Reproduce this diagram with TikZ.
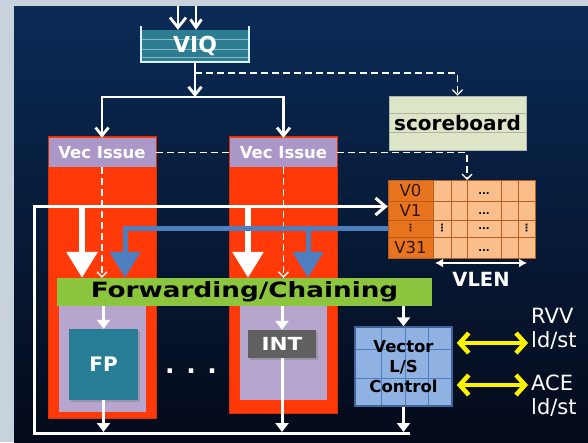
\documentclass[tikz,border=0pt]{standalone}
\usepackage{fontspec}
\usepackage{graphicx}
\setmainfont{DejaVu Sans}
\usetikzlibrary{arrows.meta,positioning,calc,shadows}

\definecolor{slidegrey}{RGB}{200,210,220}
\definecolor{paneltop}{RGB}{10,43,86}
\definecolor{panelbot}{RGB}{4,10,26}
\definecolor{lanered}{RGB}{255,58,8}
\definecolor{issuelilac}{RGB}{172,152,200}
\definecolor{pipelilac}{RGB}{182,166,206}
\definecolor{queueteal}{RGB}{44,124,146}
\definecolor{boardgreen}{RGB}{221,231,200}
\definecolor{fwdgreen}{RGB}{140,198,63}
\definecolor{fpteal}{RGB}{40,125,150}
\definecolor{intgrey}{RGB}{96,96,96}
\definecolor{lsblue}{RGB}{143,178,226}
\definecolor{regname}{RGB}{232,116,32}
\definecolor{regcell}{RGB}{250,190,140}
\definecolor{busblue}{RGB}{76,126,192}

\tikzset{
  unit/.style={inner sep=0pt,align=center},
  lane/.style={unit,fill=lanered,draw=lanered!85!black,minimum width=108pt},
  pipe/.style={unit,fill=pipelilac,minimum width=87pt},
  issue/.style={unit,fill=issuelilac,text=white,minimum width=107pt,minimum height=29pt,
    font=\bfseries\fontsize{16.5}{20}\selectfont},
  queue/.style={unit,fill=queueteal,text=white,minimum width=108pt,minimum height=32pt,
    font=\bfseries\fontsize{22}{26}\selectfont,
    path picture={\foreach \f in {0.3,0.6,0.85}
      \draw[queueteal!55!white,line width=0.8pt]
        ($(path picture bounding box.north west)!\f!(path picture bounding box.south west)$) --
        ($(path picture bounding box.north east)!\f!(path picture bounding box.south east)$);}},
  queuewall/.style={draw=white!85!cyan,line width=2.5pt},
  board/.style={unit,fill=boardgreen,draw=gray!60,line width=0.8pt,minimum width=137pt,minimum height=54pt,
    font=\bfseries\fontsize{20}{24}\selectfont,
    path picture={\foreach \f in {0.315,0.667}
      \draw[gray!50!boardgreen,line width=0.8pt]
        ($(path picture bounding box.north west)!\f!(path picture bounding box.south west)$) --
        ($(path picture bounding box.north east)!\f!(path picture bounding box.south east)$);}},
  reg/.style={unit,minimum width=45pt,text=black!80!regname,font=\fontsize{16.5}{20}\selectfont},
  regline/.style={draw=regname!80!black,line width=0.8pt},
  cell/.style={unit,font=\bfseries\fontsize{10}{12}\selectfont},
  tinydots/.style={unit,font=\bfseries\fontsize{10}{11}\selectfont},
  bar/.style={unit,fill=fwdgreen,minimum width=375pt,minimum height=28pt,
    font=\bfseries\fontsize{21}{24}\selectfont},
  fpu/.style={unit,fill=fpteal,text=white,minimum width=69pt,minimum height=71pt,
    font=\bfseries\fontsize{20}{24}\selectfont,
    drop shadow={shadow xshift=2pt,shadow yshift=-2pt,opacity=.45}},
  intu/.style={unit,fill=intgrey,text=white,minimum width=68pt,minimum height=28pt,
    font=\bfseries\fontsize{18}{22}\selectfont,
    drop shadow={shadow xshift=2pt,shadow yshift=-2pt,opacity=.45}},
  lsu/.style={unit,fill=lsblue,draw=busblue!80!black,line width=1.5pt,minimum width=97pt,minimum height=79pt,
    font=\bfseries\fontsize{16.5}{20}\selectfont,
    path picture={
      \foreach \f in {0.27,0.52,0.76}
        \draw[busblue,line width=0.8pt]
          ($(path picture bounding box.north west)!\f!(path picture bounding box.north east)$) --
          ($(path picture bounding box.south west)!\f!(path picture bounding box.south east)$);
      \foreach \f in {0.28,0.65}
        \draw[busblue,line width=0.8pt]
          ($(path picture bounding box.north west)!\f!(path picture bounding box.south west)$) --
          ($(path picture bounding box.north east)!\f!(path picture bounding box.south east)$);}},
  memport/.style={unit,text=white,align=left,font=\fontsize{21}{24}\selectfont},
  wire/.style={draw=white,line width=2.8pt},
  barb/.style={wire,-{Straight Barb[length=8pt,width=13pt]}},
  dashwire/.style={draw=white,line width=1.3pt,dash pattern=on 7pt off 4pt},
  dasharrow/.style={dashwire,-{Straight Barb[length=5pt,width=10pt,line width=1.3pt]}},
  loopwire/.style={draw=white,line width=3pt},
  bigwhite/.style={draw=white,line width=6pt,-{Triangle[width=30pt,length=26pt]}},
  bigblue/.style={draw=busblue,line width=5pt,-{Triangle[width=30pt,length=26pt]}},
  stub/.style={draw=white,line width=3pt,-{Triangle[width=13pt,length=9pt]}},
  memlink/.style={draw=yellow,line width=4.5pt,{Straight Barb[length=9pt,width=20pt]}-{Straight Barb[length=9pt,width=20pt]},
    shorten <=4pt,shorten >=3pt},
  dim/.style={draw=white,line width=2pt,{Latex[length=8pt,width=9pt]}-{Latex[length=8pt,width=9pt]}}
}

\begin{document}
\begin{tikzpicture}[x=1pt,y=-1pt]
\useasboundingbox (0,0) rectangle (588,442);
% slide backdrop
\fill[slidegrey] (0,0) rectangle (588,442);
\shade[top color=paneltop,bottom color=panelbot] (14,6) rectangle (588,442);

% execution lanes
\node[lane,minimum height=282pt] (laneA) at (102,277) {};
\node[lane,minimum height=277pt] (laneB) at (283,274.5) {};
\node[pipe,minimum height=106pt] (pipeA) at (102.5,359) {};
\node[pipe,minimum height=94pt] (pipeB) at (283,353) {};
\node[issue] (issA) at (102,152.5) {Vec Issue};
\node[issue] (issB) at (283.5,152.5) {Vec Issue};

% instruction queue
\node[queue] (viq) at (195,46) {VIQ};
\draw[queuewall] ([yshift=4pt]viq.north west) -- (viq.south west) -- (viq.south east) -- ([yshift=4pt]viq.north east);

\node[board] (sb) at (457.5,123) {scoreboard};

% vector register file
\fill[regname] (388,180) rectangle (433,258);
\fill[regcell] (433,180) rectangle (535,258);
\foreach \y in {201,220,237} \draw[regline] (388,\y) -- (535,\y);
\foreach \x in {433,451,467,501,518} \draw[regline] (\x,180) -- (\x,258);
\draw[regline] (388,180) rectangle (535,258);
\node[reg] (v0) at (410.5,190.5) {V0};
\node[reg] (v1) at (410.5,210.5) {V1};
\node[reg,tinydots] (vd) at (410.5,228.5) {⋮};
\node[reg] (v31) at (410.5,247.5) {V31};
\foreach \y in {194,214,229,251} \node[cell] at (484,\y) {...};
\node[tinydots] at (442,228.5) {⋮};
\node[tinydots] at (526.5,228.5) {⋮};
\coordinate (vlA) at (435,263);
\coordinate (vlB) at (527,263);
\draw[dim] (vlA) -- (vlB);
\node[unit,text=white,font=\bfseries\fontsize{19.5}{22}\selectfont] (vlen) at (481,279) {VLEN};

\node[bar] (fwd) at (244.5,292) {\scalebox{1.25}[1]{Forwarding/Chaining}};
\node[fpu] (fp) at (103.5,364.5) {FP};
\node[intu] (int) at (282,344) {\scalebox{1.2}[1]{INT}};
\node[unit,text=white,font=\bfseries\fontsize{25}{28}\selectfont] (more) at (191,371) {. . .};
\node[lsu] (ls) at (403.5,366.5) {Vector\\L/S\\Control};
\node[memport,anchor=west] (rvv) at (531,329) {RVV\\ld/st};
\node[memport,anchor=west] (ace) at (531,396) {ACE\\ld/st};

% fetch into the queue
\coordinate (inA) at (178,6);
\coordinate (inB) at (196,6);
\draw[wire,-{Straight Barb[length=10pt,width=16pt]}] (inA) -- (inA |- viq.north);
\draw[wire,-{Straight Barb[length=8pt,width=11pt]}] (inB) -- (inB |- viq.north);

% issue fan-out
\coordinate (fan) at (195,97);
\draw[barb] (viq.south) -- (fan);
\draw[barb] (fan) -| (issA.north);
\draw[barb] (fan) -| (issB.north);

% hazard checks
\coordinate (tap) at (195,73);
\coordinate (rftop) at (467,180);
\draw[dasharrow] (tap) -| (sb.north);
\draw[dashwire] (issA.east) -- (issB.west);
\draw[dasharrow] (issB.east) -| (rftop);
\draw[dasharrow] (issA.south) -- (issA.south |- fwd.north);
\draw[dasharrow] (issB.south) -- (issB.south |- fwd.north);

% write-back loop
\coordinate (wb) at (34,433);
\coordinate (wbEnd) at (410,433);
\coordinate (rfIn) at ([yshift=4pt]v1.west);
\draw[loopwire,-{Straight Barb[length=10pt,width=17pt]}] (wbEnd) -- (wb) |- (rfIn);
\coordinate (wA) at (82,206.5);
\coordinate (wB) at (248,206.5);
\draw[bigwhite] (wA) -- (wA |- fwd.north);
\draw[bigwhite] (wB) -- (wB |- fwd.north);

% operand read bus
\coordinate (bA) at (125,228.5);
\coordinate (bB) at (308,228.5);
\draw[bigblue] (vd.west) -| (bA |- fwd.north);
\draw[bigblue] (bB) -- (bB |- fwd.north);

% into and out of the units
\draw[stub] (fwd.south -| fp.north) -- (fp.north);
\draw[stub] (fwd.south -| int.north) -- (int.north);
\draw[stub] (fwd.south -| ls.north) -- (ls.north);
\draw[stub,shorten >=1pt] (fp.south) -- (fp.south |- wb);
\draw[stub,shorten >=1pt] (int.south) -- (int.south |- wb);
\draw[stub,shorten >=1pt] (ls.south) -- (ls.south |- wb);

% memory ports
\coordinate (pRVV) at ([yshift=23.5pt]ls.east);
\coordinate (pACE) at ([yshift=-18.5pt]ls.east);
\draw[memlink] (pRVV) -- (pRVV -| rvv.west);
\draw[memlink] (pACE) -- (pACE -| ace.west);
\end{tikzpicture}
\end{document}
